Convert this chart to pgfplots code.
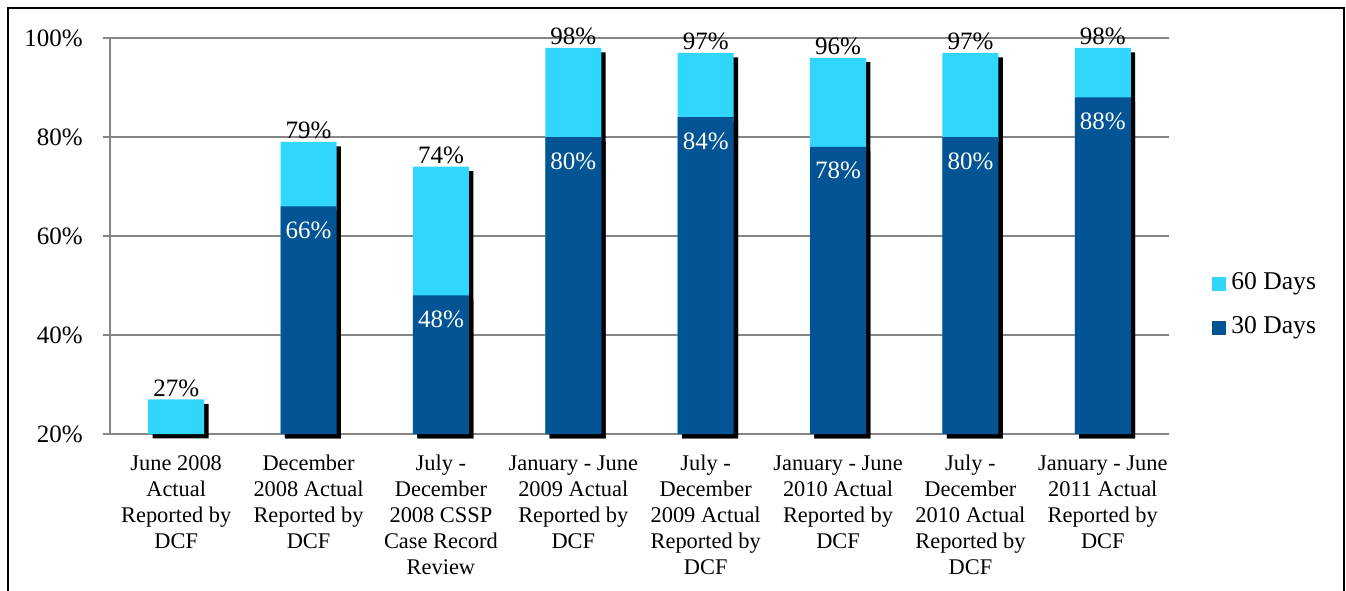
\documentclass[border=0pt]{standalone}
\usepackage{fontspec}
\setmainfont{Liberation Serif}
\usepackage{pgfplots}
\pgfplotsset{compat=1.18}
\usepackage{pgfplotstable}
\usetikzlibrary{shadows}
\definecolor{cyanbar}{RGB}{48,214,252}
\definecolor{bluebar}{RGB}{2,84,148}
\definecolor{gridgray}{RGB}{134,134,134}

% 60 Days (cumulative) and 30 Days values, in percent
\pgfplotstableread{
x d60
0 27
1 79
2 74
3 98
4 97
5 96
6 97
7 98
}\sixty
\pgfplotstableread{
x d30
1 66
2 48
3 80
4 84
5 78
6 80
7 88
}\thirty

\begin{document}
\begin{tikzpicture}[font=\fontsize{11.2pt}{13pt}\selectfont]
\useasboundingbox (0,0) rectangle (673pt,295pt);
\fill[white] (0,0) rectangle (673pt,295pt);
\draw[line width=1pt] (4pt,-2pt) -- (4pt,291pt) -- (672.2pt,291pt) -- (672.2pt,-2pt);
\begin{axis}[
  at={(55pt,78pt)}, anchor=south west,
  scale only axis, width=529.5pt, height=198pt,
  xmin=-0.5, xmax=7.5, ymin=0, ymax=80,
  ybar, bar width=28pt,
  clip=false,
  axis lines*=left,
  axis line style={gridgray, line width=0.75pt},
  ymajorgrids, grid style={gridgray, line width=0.75pt},
  ytick={0,20,40,60,80},
  yticklabels={20\%,40\%,60\%,80\%,100\%},
  ytick style={gridgray, line width=0.75pt},
  tick align=outside, major tick length=3.5pt,
  yticklabel style={anchor=east, inner sep=0pt, xshift=-10pt,
    font=\fontsize{12.5pt}{14pt}\selectfont},
  xtick={0,...,7},
  xtick style={draw=none},
  xticklabels={
    {June 2008\\Actual\\Reported by\\DCF},
    {December\\2008 Actual\\Reported by\\DCF},
    {July -\\December\\2008 CSSP\\Case Record\\Review},
    {January - June\\2009 Actual\\Reported by\\DCF},
    {July -\\December\\2009 Actual\\Reported by\\DCF},
    {January - June\\2010 Actual\\Reported by\\DCF},
    {July -\\December\\2010 Actual\\Reported by\\DCF},
    {January - June\\2011 Actual\\Reported by\\DCF}},
  xticklabel style={align=center, anchor=north, inner sep=0pt, yshift=-7pt},
  /pgf/number format/assume math mode=true,
  legend image code/.code={\fill[#1] (0pt,-3.5pt) rectangle (7pt,3.5pt);},
  legend style={at={(1.0406,0.3245)}, anchor=west, draw=none, fill=none,
    inner sep=0pt, row sep=10pt, font=\fontsize{12.8pt}{14pt}\selectfont,
    nodes={inner xsep=2.5pt, inner ysep=0pt, text height=9pt, text depth=3pt}},
  legend cell align=left,
]
\addplot[fill=cyanbar, draw=none, bar shift=0pt, forget plot,
  drop shadow={shadow xshift=2.2pt, shadow yshift=-2.2pt, fill=black, opacity=1}]
  table[x=x, y expr=\thisrow{d60}-20] {\sixty};
\addplot[fill=bluebar, draw=none, bar shift=0pt, forget plot,
  drop shadow={shadow xshift=2.2pt, shadow yshift=-2.2pt, fill=black, opacity=1}]
  table[x=x, y expr=\thisrow{d30}-20] {\thirty};
\addplot[sharp plot, bar shift=0pt, draw=none, forget plot, point meta=explicit,
  nodes near coords={\pgfmathprintnumber{\pgfplotspointmeta}\%},
  every node near coord/.append style={anchor=south, inner sep=1.2pt, text=black,
    font=\fontsize{12.5pt}{14pt}\selectfont}]
  table[x=x, y expr=\thisrow{d60}-20, meta=d60] {\sixty};
\addplot[sharp plot, bar shift=0pt, draw=none, forget plot, point meta=explicit,
  nodes near coords={\pgfmathprintnumber{\pgfplotspointmeta}\%},
  every node near coord/.append style={anchor=north, inner sep=0pt, yshift=-7.5pt, text=white,
    font=\fontsize{12.5pt}{14pt}\selectfont}]
  table[x=x, y expr=\thisrow{d30}-20, meta=d30] {\thirty};
\addlegendimage{fill=cyanbar, draw=none}
\addlegendentry{60 Days}
\addlegendimage{fill=bluebar, draw=none}
\addlegendentry{30 Days}
\end{axis}
\end{tikzpicture}
\end{document}
